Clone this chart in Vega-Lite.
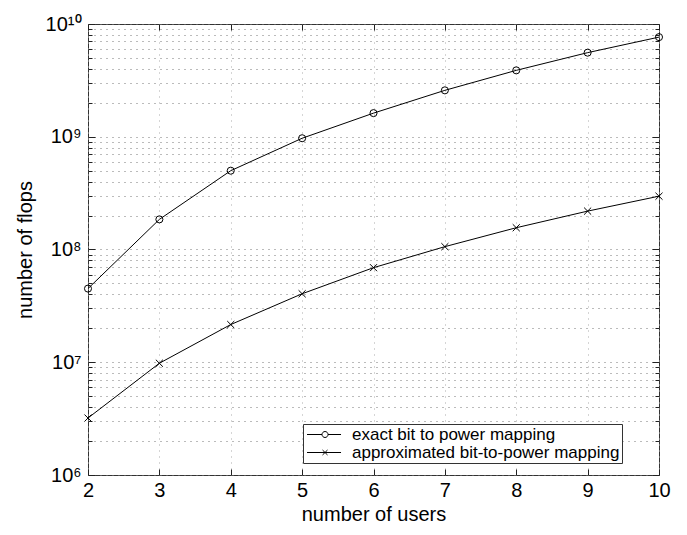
{
  "$schema": "https://vega.github.io/schema/vega-lite/v6.json",
  "width": 571,
  "height": 451,
  "autosize": "none",
  "padding": {"left": 88, "top": 24, "right": 28, "bottom": 60},
  "background": "white",
  "config": {
    "font": "Liberation Sans",
    "view": {"stroke": "#333", "strokeWidth": 1},
    "axis": {
      "domain": false,
      "labelFont": "Liberation Sans",
      "titleFont": "Liberation Sans",
      "labelColor": "#000",
      "titleColor": "#000",
      "titleFontWeight": "normal",
      "tickColor": "#222",
      "gridDash": [1, 5],
      "gridWidth": 1
    }
  },
  "data": {
    "values": [
      {"users": 2, "flops": 45000000, "method": "exact bit to power mapping"},
      {"users": 3, "flops": 185000000, "method": "exact bit to power mapping"},
      {"users": 4, "flops": 500000000, "method": "exact bit to power mapping"},
      {"users": 5, "flops": 970000000, "method": "exact bit to power mapping"},
      {"users": 6, "flops": 1620000000, "method": "exact bit to power mapping"},
      {"users": 7, "flops": 2580000000, "method": "exact bit to power mapping"},
      {"users": 8, "flops": 3880000000, "method": "exact bit to power mapping"},
      {"users": 9, "flops": 5570000000, "method": "exact bit to power mapping"},
      {"users": 10, "flops": 7650000000, "method": "exact bit to power mapping"},
      {"users": 2, "flops": 3200000, "method": "approximated bit-to-power mapping"},
      {"users": 3, "flops": 9800000, "method": "approximated bit-to-power mapping"},
      {"users": 4, "flops": 21600000, "method": "approximated bit-to-power mapping"},
      {"users": 5, "flops": 40500000, "method": "approximated bit-to-power mapping"},
      {"users": 6, "flops": 69000000, "method": "approximated bit-to-power mapping"},
      {"users": 7, "flops": 106000000, "method": "approximated bit-to-power mapping"},
      {"users": 8, "flops": 156000000, "method": "approximated bit-to-power mapping"},
      {"users": 9, "flops": 219000000, "method": "approximated bit-to-power mapping"},
      {"users": 10, "flops": 297000000, "method": "approximated bit-to-power mapping"}
    ]
  },
  "layer": [
    {
      "mark": {"type": "line", "color": "#000", "strokeWidth": 1},
      "encoding": {
        "x": {
          "field": "users",
          "type": "quantitative",
          "scale": {"domain": [2, 10], "nice": false, "zero": false},
          "axis": {
            "title": "number of users",
            "values": [2, 3, 4, 5, 6, 7, 8, 9, 10],
            "grid": true,
            "gridColor": "#aaa",
            "tickSize": -6,
            "labelFontSize": 20,
            "labelPadding": 11,
            "titleFontSize": 20,
            "titlePadding": 4,
            "labelFlush": false
          }
        },
        "y": {
          "field": "flops",
          "type": "quantitative",
          "scale": {"type": "log", "domain": [1000000, 10000000000], "nice": false},
          "axis": {
            "title": "number of flops",
            "values": [1000000, 2000000, 3000000, 4000000, 5000000, 6000000, 7000000, 8000000, 9000000,
                       10000000, 20000000, 30000000, 40000000, 50000000, 60000000, 70000000, 80000000, 90000000,
                       100000000, 200000000, 300000000, 400000000, 500000000, 600000000, 700000000, 800000000, 900000000,
                       1000000000, 2000000000, 3000000000, 4000000000, 5000000000, 6000000000, 7000000000, 8000000000, 9000000000,
                       10000000000],
            "labelExpr": "datum.value == 1000000 ? '10⁶' : datum.value == 10000000 ? '10⁷' : datum.value == 100000000 ? '10⁸' : datum.value == 1000000000 ? '10⁹' : datum.value == 10000000000 ? '10¹⁰' : ''",
            "grid": true,
            "gridColor": "#777",
            "tickSize": {"condition": {"test": "datum.value == 1000000 || datum.value == 10000000 || datum.value == 100000000 || datum.value == 1000000000 || datum.value == 10000000000", "value": -7}, "value": -4},
            "labelFontSize": 20,
            "labelPadding": 14,
            "labelOverlap": false,
            "labelFlush": false,
            "titleFontSize": 20,
            "titlePadding": 10
          }
        },
        "detail": {"field": "method", "type": "nominal"}
      }
    },
    {
      "mark": {"type": "point", "filled": false, "color": "#000", "strokeWidth": 1, "size": 50, "opacity": 1},
      "encoding": {
        "x": {
          "field": "users",
          "type": "quantitative",
          "axis": {"orient": "top", "title": null, "labels": false, "grid": false, "tickSize": -6, "values": [2, 3, 4, 5, 6, 7, 8, 9, 10]}
        },
        "y": {
          "field": "flops",
          "type": "quantitative",
          "axis": {
            "orient": "right",
            "title": null,
            "labels": false,
            "grid": false,
            "values": [1000000, 2000000, 3000000, 4000000, 5000000, 6000000, 7000000, 8000000, 9000000,
                       10000000, 20000000, 30000000, 40000000, 50000000, 60000000, 70000000, 80000000, 90000000,
                       100000000, 200000000, 300000000, 400000000, 500000000, 600000000, 700000000, 800000000, 900000000,
                       1000000000, 2000000000, 3000000000, 4000000000, 5000000000, 6000000000, 7000000000, 8000000000, 9000000000,
                       10000000000],
            "tickSize": {"condition": {"test": "datum.value == 1000000 || datum.value == 10000000 || datum.value == 100000000 || datum.value == 1000000000 || datum.value == 10000000000", "value": -7}, "value": -4}
          }
        },
        "shape": {
          "field": "method",
          "type": "nominal",
          "scale": {
            "domain": ["exact bit to power mapping", "approximated bit-to-power mapping"],
            "range": ["circle", "M-1,-1L1,1M-1,1L1,-1"]
          },
          "legend": null
        }
      }
    },
    {
      "transform": [{"filter": "false"}],
      "mark": {"type": "point", "filled": false, "color": "#000", "strokeWidth": 1, "opacity": 1},
      "encoding": {
        "shape": {
          "field": "method",
          "type": "nominal",
          "scale": {
            "domain": ["exact bit to power mapping", "approximated bit-to-power mapping"],
            "range": [
              "M-0.81,0H1.065M1.815,0H3.44M1.065,0A0.375,0.375 0 1 1 1.815,0A0.375,0.375 0 1 1 1.065,0",
              "M-0.81,0H3.44M1.13,-0.31L1.75,0.31M1.13,0.31L1.75,-0.31"
            ]
          },
          "legend": {
            "title": null,
            "orient": "none",
            "legendX": 215,
            "legendY": 400,
            "fillColor": "white",
            "strokeColor": "#333",
            "padding": 2,
            "cornerRadius": 0,
            "labelFont": "Liberation Sans",
            "labelFontSize": 17,
            "labelColor": "#000",
            "labelLimit": 400,
            "labelOffset": 30,
            "rowPadding": 0,
            "symbolSize": 256,
            "symbolStrokeColor": "#000",
            "symbolStrokeWidth": 1
          }
        }
      }
    }
  ],
  "resolve": {
    "axis": {"x": "independent", "y": "independent"},
    "scale": {"shape": "independent"},
    "legend": {"shape": "independent"}
  }
}
